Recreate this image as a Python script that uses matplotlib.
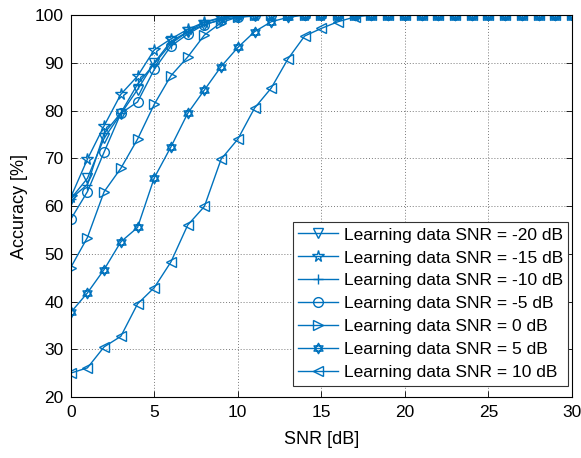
import numpy as np
import matplotlib
matplotlib.use("Agg")
import matplotlib.pyplot as plt
from matplotlib.path import Path

plt.rcParams['font.family'] = ['Liberation Sans', 'DejaVu Sans']

snr = list(range(0, 31))

acc_m20 = [61.5, 65.8, 74.2, 79.3, 84.4, 90.0, 94.5, 96.5, 98.0, 99.0, 99.5, 99.8, 100, 100, 100, 100,
           100, 100, 100, 100, 100, 100, 100, 100, 100, 100, 100, 100, 100, 100, 100]
acc_m15 = [61.8, 69.8, 76.8, 83.4, 87.2, 92.7, 95.0, 97.0, 98.5, 99.5, 99.9, 100, 100, 100, 100, 100,
           100, 100, 100, 100, 100, 100, 100, 100, 100, 100, 100, 100, 100, 100, 100]
acc_m10 = [61.5, 64.5, 75.2, 79.5, 85.5, 89.8, 94.0, 96.5, 98.5, 99.3, 99.8, 100, 100, 100, 100, 100,
           100, 100, 100, 100, 100, 100, 100, 100, 100, 100, 100, 100, 100, 100, 100]
acc_m5 = [57.2, 63.0, 71.3, 79.4, 81.8, 88.6, 93.5, 96.0, 98.0, 99.0, 99.5, 100, 100, 100, 100, 100,
          100, 100, 100, 100, 100, 100, 100, 100, 100, 100, 100, 100, 100, 100, 100]
acc_0 = [47.1, 53.4, 63.0, 67.9, 74.0, 81.3, 87.3, 91.2, 95.8, 98.4, 99.6, 100, 100, 100, 100, 100,
         100, 100, 100, 100, 100, 100, 100, 100, 100, 100, 100, 100, 100, 100, 100]
acc_5 = [37.7, 41.8, 46.7, 52.5, 55.5, 65.9, 72.4, 79.4, 84.3, 89.2, 93.2, 96.5, 98.6, 99.5, 100, 100,
         100, 100, 100, 100, 100, 100, 100, 100, 100, 100, 100, 100, 100, 100, 100]
acc_10 = [25.0, 26.1, 30.5, 32.7, 39.5, 42.9, 48.3, 56.0, 59.9, 69.8, 74.0, 80.5, 84.7, 90.8, 95.6, 97.2,
          98.6, 99.6, 100, 100, 100, 100, 100, 100, 100, 100, 100, 100, 100, 100, 100]

labels = ['Learning data SNR = -20 dB', 'Learning data SNR = -15 dB',
          'Learning data SNR = -10 dB', 'Learning data SNR = -5 dB',
          'Learning data SNR = 0 dB', 'Learning data SNR = 5 dB',
          'Learning data SNR = 10 dB']

# six-pointed star: two overlapping triangles
a_up = np.deg2rad([90, 210, 330])
a_dn = np.deg2rad([270, 30, 150])
hex_verts = [(np.cos(a), np.sin(a)) for a in a_up] + [(0, 0)] + \
            [(np.cos(a), np.sin(a)) for a in a_dn] + [(0, 0)]
hex_codes = [Path.MOVETO, Path.LINETO, Path.LINETO, Path.CLOSEPOLY] * 2
hexagram = Path(hex_verts, hex_codes)

series = [acc_m20, acc_m15, acc_m10, acc_m5, acc_0, acc_5, acc_10]
markers = ['v', '*', '+', 'o', '>', hexagram, '<']
sizes = [7.5, 8.5, 7.5, 7, 7.5, 7.5, 7.5]
color = '#0072BD'

fig = plt.figure(figsize=(5.81, 4.58), dpi=100)
ax = fig.add_axes([0.1217, 0.1332, 0.8628, 0.8340])

for y, m, ms, lab in zip(series, markers, sizes, labels):
    ax.plot(snr, y, color=color, lw=1.0, marker=m, ms=ms, mfc='none',
            mec=color, mew=1.0, label=lab)

ax.set_xlim(0, 30)
ax.set_ylim(20, 100)
ax.set_xticks(np.arange(0, 31, 5))
ax.set_yticks(np.arange(20, 101, 10))
ax.grid(True, linestyle=(0, (1, 2)), color='#7a7a7a', lw=0.7)
ax.tick_params(direction='in', top=True, right=True, labelsize=12.5, length=4, width=0.6)
ax.tick_params(axis='x', pad=6)
ax.tick_params(axis='y', pad=5)
for s in ax.spines.values():
    s.set_linewidth(0.8)
ax.set_xlabel('SNR [dB]', fontsize=13, labelpad=8)
ax.set_ylabel('Accuracy [%]', fontsize=13, labelpad=5)

leg = ax.legend(loc='lower right', bbox_to_anchor=(0.992, 0.03), borderaxespad=0,
                fontsize=12.5, fancybox=False, framealpha=1, edgecolor='#333333',
                handlelength=2.3, handletextpad=0.3, labelspacing=0.45,
                borderpad=0.3)
leg.get_frame().set_linewidth(0.8)

fig.savefig('out.png', dpi=100)
